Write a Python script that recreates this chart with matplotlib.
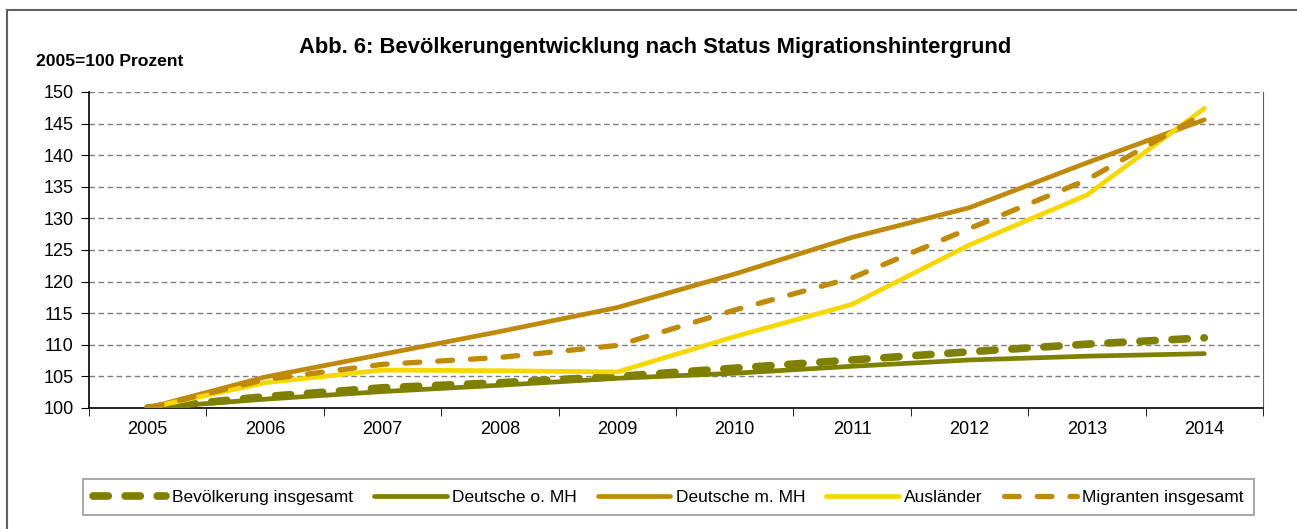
import matplotlib
matplotlib.use("Agg")
import matplotlib.pyplot as plt
from matplotlib.lines import Line2D
from matplotlib.ticker import MultipleLocator, FixedLocator

plt.rcParams['font.family'] = ['Liberation Sans', 'DejaVu Sans']

years = ["2005", "2006", "2007", "2008", "2009", "2010", "2011", "2012", "2013", "2014"]
bevoelkerung = [100, 101.8, 103.2, 104.0, 105.0, 106.3, 107.6, 108.9, 110.1, 111.1]
deutsche_ohne = [100, 101.4, 102.6, 103.6, 104.7, 105.5, 106.6, 107.6, 108.2, 108.6]
deutsche_mit = [100, 104.9, 108.5, 112.1, 115.9, 121.2, 127.0, 131.7, 138.8, 145.6]
auslaender = [100, 104.0, 106.0, 105.9, 105.7, 111.3, 116.4, 125.8, 133.7, 147.4]
migranten = [100, 104.5, 106.9, 108.0, 109.9, 115.5, 120.6, 128.4, 136.1, 146.6]

olive = "#808000"
gold = "#BF8A0B"
yellow = "#F5D800"

fig = plt.figure(figsize=(12.97, 5.29), dpi=100)
ax = fig.add_axes([89/1297, 1 - 408/529, (1263-89)/1297, (408-92)/529])

x = range(len(years))
ax.plot(x, bevoelkerung, color=olive, lw=5.5, linestyle=(0, (2.0, 2.2)),
        dash_capstyle='round', label="Bevölkerung insgesamt", zorder=3)
ax.plot(x, deutsche_ohne, color=olive, lw=3.4, solid_capstyle='round',
        label="Deutsche o. MH", zorder=3)
ax.plot(x, deutsche_mit, color=gold, lw=3.4, solid_capstyle='round',
        label="Deutsche m. MH", zorder=3)
ax.plot(x, auslaender, color=yellow, lw=3.4, solid_capstyle='round',
        label="Ausländer", zorder=3)
ax.plot(x, migranten, color=gold, lw=3.8, linestyle=(0, (2.8, 3.4)),
        dash_capstyle='round', label="Migranten insgesamt", zorder=4)

ax.set_xlim(-0.5, len(years) - 0.5)
ax.set_ylim(100, 150)
ax.yaxis.set_major_locator(MultipleLocator(5))
ax.set_xticks(list(x))
ax.set_xticklabels(years)
ax.xaxis.set_minor_locator(FixedLocator([i - 0.5 for i in range(len(years) + 1)]))
ax.tick_params(axis='x', which='major', length=0, pad=9, labelsize=13)
ax.tick_params(axis='x', which='minor', length=6, direction='out', color='black')
ax.tick_params(axis='y', length=6, direction='out', pad=5, labelsize=13)

ax.grid(axis='y', color='#7f7f7f', linestyle=(0, (4, 2.5)), lw=1, zorder=1)
ax.set_axisbelow(True)
ax.spines['top'].set_visible(False)
ax.spines['right'].set_color('#606060')
ax.spines['left'].set_color('black')
ax.spines['bottom'].set_color('black')
ax.spines['left'].set_linewidth(1.2)
ax.spines['bottom'].set_linewidth(1.2)

fig.text(655/1297, 1 - 47/529,
         "Abb. 6: Bevölkerungentwicklung nach Status Migrationshintergrund",
         ha='center', va='center', fontsize=15.8, fontweight='bold')
fig.text(36/1297, 1 - 61/529, "2005=100 Prozent", ha='left', va='center',
         fontsize=12.6, fontweight='bold')

leg = fig.legend(loc='center', ncol=5, mode='expand',
                 bbox_to_anchor=(83/1297, 1 - 517/529, (1254-83)/1297, 40/529),
                 fontsize=12.5, handlelength=4.2, handletextpad=0.3,
                 columnspacing=1.0, borderpad=0.6,
                 frameon=True, fancybox=False, borderaxespad=0)
leg.get_frame().set_edgecolor('#808080')
leg.get_frame().set_linewidth(1.2)

# outer frame (top and left edges visible)
fig.add_artist(Line2D([7/1297, 1], [1 - 10/529, 1 - 10/529],
                      transform=fig.transFigure, color='#606060', lw=1.5))
fig.add_artist(Line2D([7/1297, 7/1297], [0, 1 - 10/529],
                      transform=fig.transFigure, color='#606060', lw=1.5))

fig.savefig("out.png", dpi=100)
